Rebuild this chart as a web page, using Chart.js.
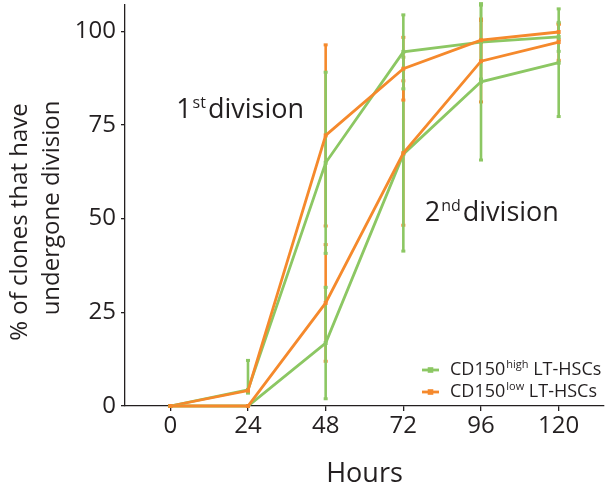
<!DOCTYPE html>
<html>
<head>
<meta charset="utf-8">
<script src="https://cdn.jsdelivr.net/npm/chart.js@4.4.1/dist/chart.umd.min.js"></script>
<style>
  html, body { margin: 0; padding: 0; background: #ffffff; }
  #wrap { width: 608px; height: 493px; }
</style>
</head>
<body>
<div id="wrap"><canvas id="c" width="608" height="493"></canvas></div>
<script>
// ---- data ----
const hours = [0, 24, 48, 72, 96, 120];
const xTickLabels = ['0', '24', '48', '72', '96', '120'];
const yTickLabels = ['0', '25', '50', '75', '100'];

// CD150 high LT-HSCs
const highFirst = [0, 4.3, 64.9, 94.5, 97.1, 98.5];
const highFirstErrHi = [0, 8, 24.3, 10, 10, 4];
const highFirstErrLo = [0, 1, 24.3, 10, 10, 4];
const highSecond = [0, 0, 16.8, 67.2, 86.5, 91.6];
const highSecondErr = [0, 0, 15, 26, 21, 14.5];

// CD150 low LT-HSCs
const lowFirst = [0, 4.1, 72.2, 90, 97.6, 99.8];
const lowFirstErr = [0, 0, 24.3, 8.5, 5.8, 2.2];
const lowSecond = [0, 0, 27.5, 67.5, 92, 97.1];
const lowSecondErr = [0, 0, 15.7, 19.4, 11, 5];

const seriesNames = ['CD150', 'CD150'];
const seriesSup = ['high', 'low'];
const seriesSuffix = ' LT-HSCs';
const annotations = [
  { main: '1', sup: 'st', rest: 'division', x: 1.8, y: 76.8 },
  { main: '2', sup: 'nd', rest: 'division', x: 78.6, y: 49.3 }
];
const yTitleLines = ['% of clones that have', 'undergone division'];
const xTitle = 'Hours';

// ---- styles ----
const GREEN = '#8cc763';
const ORANGE = '#f5892c';
const TEXT = '#231f20';
const FONT = "'Open Sans', 'DejaVu Sans', sans-serif";

function pts(ys) { return hours.map((h, i) => ({ x: h, y: ys[i] })); }

function ds(label, ys, lo, hi, color) {
  return {
    label: label,
    data: pts(ys),
    errLo: lo,
    errHi: hi,
    borderColor: color,
    backgroundColor: color,
    borderWidth: 2.8,
    pointStyle: 'rect',
    pointRadius: 2.8,
    pointBorderWidth: 0,
    pointBackgroundColor: color,
    tension: 0,
    clip: false
  };
}

const errorBars = {
  id: 'errorBars',
  beforeDatasetsDraw(chart) {
    const ctx = chart.ctx;
    const xs = chart.scales.x, ys = chart.scales.y;
    ctx.save();
    chart.data.datasets.forEach(d => {
      ctx.strokeStyle = d.borderColor;
      ctx.fillStyle = d.borderColor;
      ctx.lineWidth = 2.6;
      d.data.forEach((p, i) => {
        const lo = d.errLo[i], hi = d.errHi[i];
        if (!lo && !hi) return;
        const px = xs.getPixelForValue(p.x);
        const top = ys.getPixelForValue(p.y + hi);
        const bot = ys.getPixelForValue(Math.max(0, p.y - lo));
        ctx.beginPath();
        ctx.moveTo(px, top); ctx.lineTo(px, bot);
        ctx.stroke();
        ctx.fillRect(px - 2, top - 1, 4, 3);
        ctx.fillRect(px - 2, bot - 2, 4, 3);
      });
    });
    ctx.restore();
  }
};

const extras = {
  id: 'extras',
  afterDraw(chart) {
    const ctx = chart.ctx;
    const xs = chart.scales.x, ys = chart.scales.y;
    ctx.save();
    ctx.fillStyle = TEXT;
    // y title (two lines, rotated)
    ctx.save();
    ctx.font = '24px ' + FONT;
    ctx.textAlign = 'center';
    ctx.textBaseline = 'middle';
    ctx.translate(20, 222);
    ctx.rotate(-Math.PI / 2);
    ctx.fillText(yTitleLines[0], 0, 0);
    ctx.fillText(yTitleLines[1], 14, 32);
    ctx.restore();

    // annotations
    annotations.forEach(a => {
      let x = xs.getPixelForValue(a.x);
      const y = ys.getPixelForValue(a.y);
      ctx.textAlign = 'left';
      ctx.textBaseline = 'alphabetic';
      ctx.font = '27px ' + FONT;
      ctx.fillText(a.main, x, y);
      x += ctx.measureText(a.main).width + 1;
      ctx.font = '16px ' + FONT;
      ctx.fillText(a.sup, x, y - 10);
      x += ctx.measureText(a.sup).width + 2;
      ctx.font = '27px ' + FONT;
      ctx.fillText(a.rest, x, y);
    });

    // legend
    const colors = [GREEN, ORANGE];
    const lx0 = 422, lx1 = 439, tx = 450;
    const rows = [370, 392];
    rows.forEach((ry, i) => {
      ctx.strokeStyle = colors[i];
      ctx.fillStyle = colors[i];
      ctx.lineWidth = 2.8;
      ctx.beginPath(); ctx.moveTo(lx0, ry); ctx.lineTo(lx1, ry); ctx.stroke();
      ctx.fillRect((lx0 + lx1) / 2 - 2.8, ry - 2.8, 5.6, 5.6);
      ctx.fillStyle = TEXT;
      ctx.textBaseline = 'middle';
      ctx.textAlign = 'left';
      let x = tx;
      ctx.font = '18px ' + FONT;
      ctx.fillText(seriesNames[i], x, ry);
      x += ctx.measureText(seriesNames[i]).width + 1;
      ctx.font = '11px ' + FONT;
      ctx.fillText(seriesSup[i], x, ry - 5);
      x += ctx.measureText(seriesSup[i]).width;
      ctx.font = '18px ' + FONT;
      ctx.fillText(seriesSuffix, x, ry);
    });
    ctx.restore();
  }
};

new Chart(document.getElementById('c'), {
  type: 'line',
  data: {
    datasets: [
      ds('low 2nd', lowSecond, lowSecondErr, lowSecondErr, ORANGE),
      ds('high 2nd', highSecond, highSecondErr, highSecondErr, GREEN),
      ds('low 1st', lowFirst, lowFirstErr, lowFirstErr, ORANGE),
      ds('high 1st', highFirst, highFirstErrLo, highFirstErrHi, GREEN)
    ]
  },
  options: {
    responsive: false,
    animation: false,
    layout: { padding: { top: 5, right: 3, left: 0, bottom: 0 } },
    plugins: { legend: { display: false }, tooltip: { enabled: false } },
    scales: {
      x: {
        type: 'linear',
        min: -14, max: 134,
        afterFit: s => { s.height = 87; s.paddingLeft = 0; s.paddingRight = 0; },
        afterBuildTicks: s => { s.ticks = hours.map(v => ({ value: v })); },
        ticks: {
          callback: (v) => xTickLabels[hours.indexOf(v)],
          font: { size: 24, family: FONT }, color: TEXT, padding: 1, maxRotation: 0
        },
        grid: { drawOnChartArea: false, tickLength: 5, color: TEXT, lineWidth: 1.3 },
        border: { color: TEXT, width: 1.3 },
        title: { display: true, text: xTitle, color: TEXT, font: { size: 27, family: FONT }, padding: { top: 0, bottom: 2 } }
      },
      y: {
        min: 0, max: 107,
        afterFit: s => { s.width = 125; s.paddingTop = 0; s.paddingBottom = 0; },
        afterBuildTicks: s => { s.ticks = yTickLabels.map(v => ({ value: Number(v) })); },
        ticks: {
          callback: (v) => String(v),
          font: { size: 24, family: FONT }, color: TEXT, padding: 5
        },
        grid: { drawOnChartArea: false, tickLength: 4, color: TEXT, lineWidth: 1.3 },
        border: { color: TEXT, width: 1.3 }
      }
    }
  },
  plugins: [errorBars, extras]
});
</script>
</body>
</html>
